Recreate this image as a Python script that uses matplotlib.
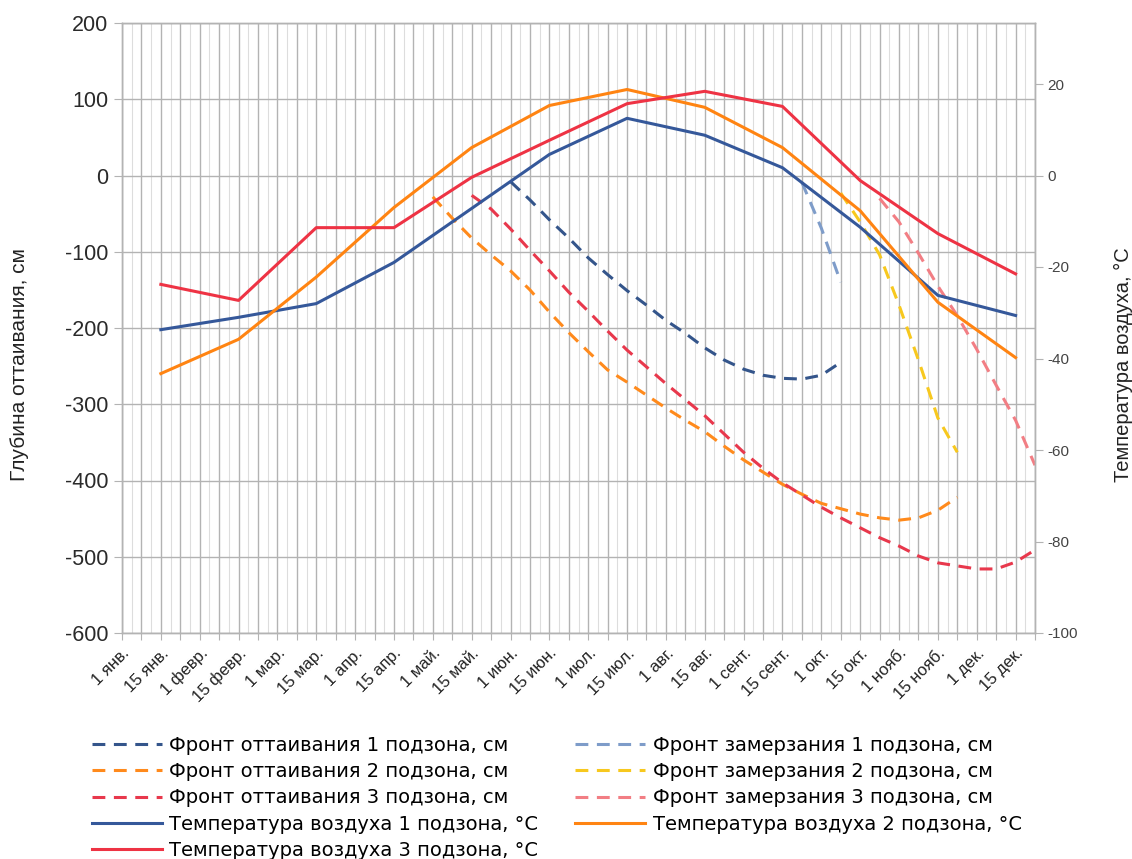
import matplotlib
matplotlib.use("Agg")
import matplotlib.pyplot as plt
import numpy as np
from matplotlib.ticker import MultipleLocator

plt.rcParams.update({
    "font.family": ["Liberation Sans", "DejaVu Sans"],
    "axes.unicode_minus": False,
})

# ── data ───────────────────────────────────────────────────────────────────
# x positions are in "half-month" units: 0 = 1 янв., 1 = 15 янв., ... 23 = 15 дек.
date_labels = ["1 янв.", "15 янв.", "1 февр.", "15 февр.", "1 мар.", "15 мар.",
               "1 апр.", "15 апр.", "1 май.", "15 май.", "1 июн.", "15 июн.",
               "1 июл.", "15 июл.", "1 авг.", "15 авг.", "1 сент.", "15 сент.",
               "1 окт.", "15 окт.", "1 нояб.", "15 нояб.", "1 дек.", "15 дек."]

# air temperature on the 15th of each month, °C
temp_x = [1, 3, 5, 7, 9, 11, 13, 15, 17, 19, 21, 23]
temp_1 = [-33.7, -31.0, -28.0, -19.0, -7.2, 4.6, 12.5, 8.8, 1.7, -11.3, -26.2, -30.6]
temp_2 = [-43.3, -35.8, -22.2, -7.0, 6.1, 15.3, 18.8, 14.9, 6.1, -7.7, -27.7, -39.8]
temp_3 = [-23.8, -27.3, -11.4, -11.4, -0.4, 7.7, 15.7, 18.4, 15.1, -1.1, -12.7, -21.5]

# thaw fronts, cm
thaw_1_x = [10.0, 10.5, 11.0, 11.5, 12.0, 12.5, 13.0, 13.5, 14.0, 14.5, 15.0,
            15.5, 16.0, 16.5, 17.0, 17.5, 18.0, 18.5]
thaw_1 = [-8, -32, -58, -82, -108, -130, -151, -170, -190, -207, -226,
          -242, -254, -262, -266, -267, -262, -245]

thaw_2_x = [8.0, 8.5, 9.0, 9.5, 10.0, 10.5, 11.0, 11.5, 12.0, 12.5, 13.0, 13.5,
            14.0, 14.5, 15.0, 15.5, 16.0, 16.5, 17.0, 17.5, 18.0, 18.5, 19.0,
            19.5, 20.0, 20.5, 21.0, 21.5]
thaw_2 = [-28, -56, -82, -104, -125, -150, -179, -206, -231, -255, -271, -288,
          -305, -321, -336, -355, -373, -389, -405, -418, -430, -437, -444,
          -449, -452, -449, -439, -422]

thaw_3_x = [9.0, 9.5, 10.0, 10.5, 11.0, 11.5, 12.0, 12.5, 13.0, 13.5, 14.0, 14.5,
            15.0, 15.5, 16.0, 16.5, 17.0, 17.5, 18.0, 18.5, 19.0, 19.5, 20.0,
            20.5, 21.0, 21.5, 22.0, 22.5, 23.0, 23.5]
thaw_3 = [-26, -44, -70, -98, -125, -153, -178, -204, -229, -251, -273, -294,
          -315, -339, -363, -384, -403, -419, -435, -449, -462, -475, -486,
          -499, -508, -512, -516, -516, -507, -491]

# freeze fronts, cm
freeze_1_x = [17.5, 18.0, 18.5]
freeze_1 = [-9, -69, -140]

freeze_2_x = [18.5, 19.0, 19.5, 20.0, 20.5, 21.0, 21.5]
freeze_2 = [-23, -61, -104, -170, -242, -318, -363]

freeze_3_x = [19.5, 20.0, 20.5, 21.0, 21.5, 22.0, 22.5, 23.0, 23.5]
freeze_3 = [-30, -61, -102, -145, -184, -228, -275, -321, -380]

# ── style ──────────────────────────────────────────────────────────────────
C_BLUE = "#35589A"
C_ORANGE = "#FF8412"
C_RED = "#EE3344"
C_THAW_1 = "#34558B"
C_FREEZE_1 = "#7E9CC9"
C_THAW_2 = "#FF8A1C"
C_FREEZE_2 = "#F7C81E"
C_THAW_3 = "#E8384C"
C_FREEZE_3 = "#F27E84"
GRID = "#b3b3b3"
LW = 2.2
DASH = (0, (4.2, 2.8))

fig = plt.figure(figsize=(11.32, 8.59), dpi=100)
ax = fig.add_axes([122 / 1132, 1 - 633 / 859, (1035 - 122) / 1132, (633 - 23) / 859])
ax2 = ax.twinx()

# dashed fronts on the depth axis
h_t1, = ax.plot(thaw_1_x, thaw_1, color=C_THAW_1, lw=LW, linestyle=DASH,
                label="Фронт оттаивания 1 подзона, см")
h_t2, = ax.plot(thaw_2_x, thaw_2, color=C_THAW_2, lw=LW, linestyle=DASH,
                label="Фронт оттаивания 2 подзона, см")
h_t3, = ax.plot(thaw_3_x, thaw_3, color=C_THAW_3, lw=LW, linestyle=DASH,
                label="Фронт оттаивания 3 подзона, см")
h_f1, = ax.plot(freeze_1_x, freeze_1, color=C_FREEZE_1, lw=LW, linestyle=DASH,
                label="Фронт замерзания 1 подзона, см")
h_f2, = ax.plot(freeze_2_x, freeze_2, color=C_FREEZE_2, lw=LW, linestyle=DASH,
                label="Фронт замерзания 2 подзона, см")
h_f3, = ax.plot(freeze_3_x, freeze_3, color=C_FREEZE_3, lw=LW, linestyle=DASH,
                label="Фронт замерзания 3 подзона, см")

# air temperatures on the right axis
h_a1, = ax2.plot(temp_x, temp_1, color=C_BLUE, lw=LW,
                 label="Температура воздуха 1 подзона, °C")
h_a2, = ax2.plot(temp_x, temp_2, color=C_ORANGE, lw=LW,
                 label="Температура воздуха 2 подзона, °C")
h_a3, = ax2.plot(temp_x, temp_3, color=C_RED, lw=LW,
                 label="Температура воздуха 3 подзона, °C")

# axes
ax.set_xlim(0, 23.5)
ax.set_ylim(-600, 200)
ax.yaxis.set_major_locator(MultipleLocator(100))
ax2.yaxis.set_major_locator(MultipleLocator(20))
ax2.set_ylim(-100, 100 / 3)

major_x = np.arange(0, 23.51, 0.5)
ax.set_xticks(major_x)
ax.set_xticks(np.arange(0.25, 23.5, 0.5), minor=True)
ax.set_xticklabels([date_labels[int(v)] if v == int(v) else "" for v in major_x],
                   rotation=45, ha="right", rotation_mode="anchor", fontsize=12,
                   color="#222222")
ax.tick_params(axis="x", which="major", length=5, color=GRID, pad=4)
ax.tick_params(axis="x", which="minor", length=0)
ax.tick_params(axis="y", length=6, color=GRID, labelsize=15.5, labelcolor="#2a2a2a", pad=4)
ax2.tick_params(axis="y", length=6, color=GRID, labelsize=11, labelcolor="#444444", pad=3)

ax.grid(True, which="major", axis="both", color=GRID, lw=1.0)
ax.grid(True, which="minor", axis="x", color="#dddddd", lw=0.8)
ax.set_axisbelow(True)

for a in (ax, ax2):
    for s in a.spines.values():
        s.set_color(GRID)
        s.set_linewidth(1.0)

ax.set_ylabel("Глубина оттаивания, см", fontsize=15, color="#222222")
ax.yaxis.set_label_coords(-0.102, 0.44)
ax2.set_ylabel("Температура воздуха, °C", fontsize=14.5, color="#222222")
ax2.yaxis.set_label_coords(1.087, 0.44)

# legend below, two columns
handles = [h_t1, h_t2, h_t3, h_a1, h_a3, h_f1, h_f2, h_f3, h_a2]
fig.legend(handles=handles, labels=[h.get_label() for h in handles],
           loc="lower left", bbox_to_anchor=(80 / 1132, -0.015), ncol=2,
           frameon=False, prop={"family": "DejaVu Sans", "size": 14},
           handlelength=3.6, handletextpad=0.4,
           columnspacing=1.9, labelspacing=0.38, borderaxespad=0.2)

fig.savefig("out.png", dpi=100)
